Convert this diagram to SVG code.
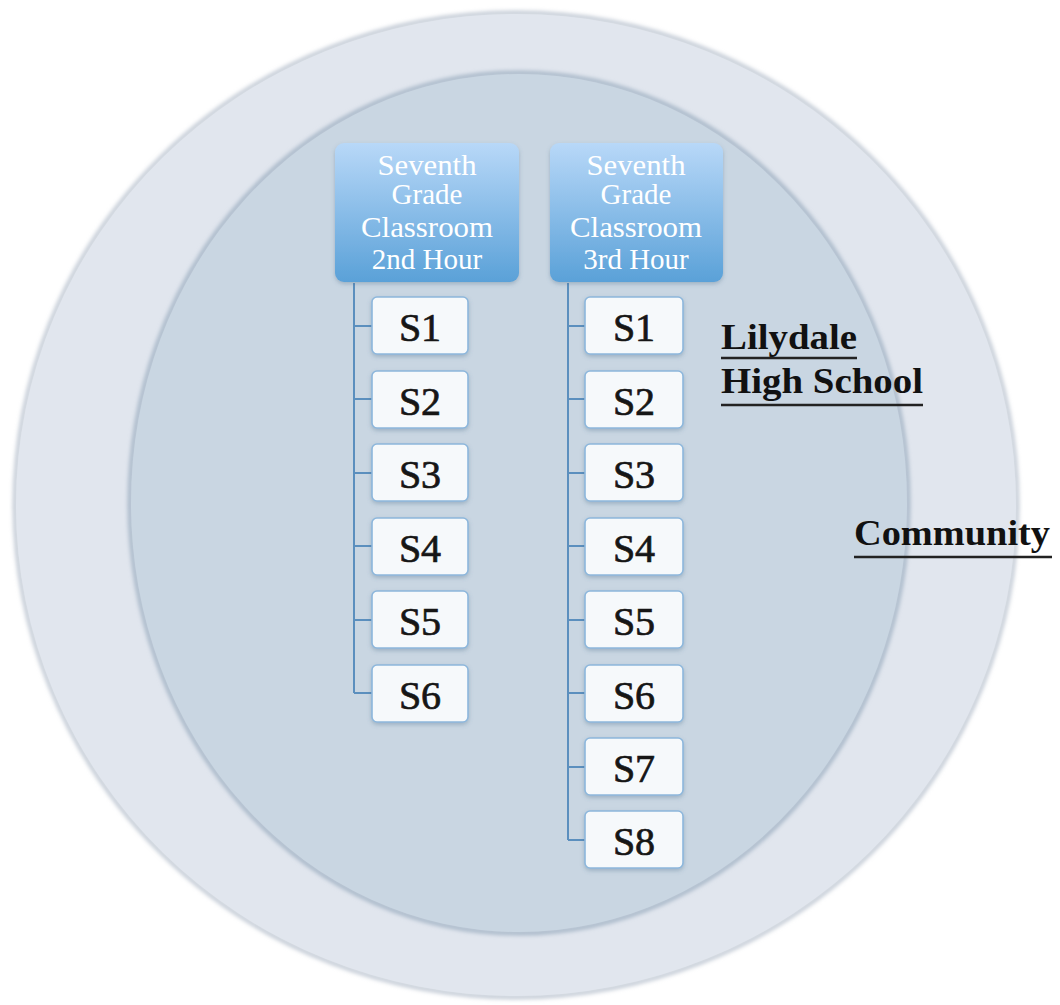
<svg xmlns="http://www.w3.org/2000/svg" width="1060" height="1005" viewBox="0 0 1060 1005">
  <defs>
    <linearGradient id="hdrFill" x1="0" y1="0" x2="0" y2="1">
      <stop offset="0" stop-color="#b8d8f8"/>
      <stop offset="1" stop-color="#5aa1d8"/>
    </linearGradient>
    <filter id="shadow" x="-10%" y="-10%" width="120%" height="130%">
      <feDropShadow dx="0" dy="2" stdDeviation="2" flood-color="#4a6a88" flood-opacity="0.35"/>
    </filter>
    <filter id="rim" x="-5%" y="-5%" width="110%" height="110%">
      <feGaussianBlur stdDeviation="2"/>
    </filter>
  </defs>
  <style>
    .hdr { fill: url(#hdrFill); filter: url(#shadow); }
    .hdrText { font-family: "Liberation Serif", serif; font-size: 29px; fill: #ffffff; text-anchor: middle; }
    .item { fill: #f6f9fb; stroke: #8db7dc; stroke-width: 1.6; filter: url(#shadow); }
    .itemText { font-family: "Liberation Serif", serif; font-size: 40px; fill: #161616; stroke: #161616; stroke-width: 0.7; text-anchor: middle; }
    .conn { fill: none; stroke: #5b8fbe; stroke-width: 2; }
    .label { font-family: "Liberation Serif", serif; font-weight: bold; font-size: 36px; fill: #111111; }
    .uline { stroke: #222222; stroke-width: 2.5; }
  </style>

  <rect width="1060" height="1005" fill="#ffffff"/>

  <!-- community ring -->
  <g id="community">
    <ellipse cx="516" cy="505" rx="501" ry="492" fill="none" stroke="#b9c2cf" stroke-width="4" filter="url(#rim)"/>
    <ellipse cx="516" cy="505" rx="500" ry="491" fill="#e1e6ee"/>
  </g>

  <!-- school ellipse -->
  <g id="school">
    <ellipse cx="519" cy="503" rx="389" ry="430" fill="none" stroke="#9fb0c2" stroke-width="4" filter="url(#rim)"/>
    <ellipse cx="519" cy="503" rx="388" ry="429" fill="#c9d6e2"/>
  </g>

  <!-- connectors -->
  <g id="connectors">
    <path class="conn" d="M354 283 V693 M354 326 H372 M354 399 H372 M354 473 H372 M354 546 H372 M354 620 H372 M354 693 H372"/>
    <path class="conn" d="M568 283 V840 M568 326 H585 M568 399 H585 M568 473 H585 M568 546 H585 M568 620 H585 M568 693 H585 M568 767 H585 M568 840 H585"/>
  </g>

  <!-- class headers -->
  <g id="class-2nd">
    <rect class="hdr" x="335" y="143" width="184" height="139" rx="9"/>
    <text class="hdrText" x="427" y="175" textLength="99" lengthAdjust="spacingAndGlyphs">Seventh</text>
    <text class="hdrText" x="427" y="204">Grade</text>
    <text class="hdrText" x="427" y="237" textLength="132" lengthAdjust="spacingAndGlyphs">Classroom</text>
    <text class="hdrText" x="427" y="269">2nd Hour</text>
  </g>
  <g id="class-3rd">
    <rect class="hdr" x="550" y="143" width="173" height="139" rx="9"/>
    <text class="hdrText" x="636" y="175" textLength="99" lengthAdjust="spacingAndGlyphs">Seventh</text>
    <text class="hdrText" x="636" y="204">Grade</text>
    <text class="hdrText" x="636" y="237" textLength="132" lengthAdjust="spacingAndGlyphs">Classroom</text>
    <text class="hdrText" x="636" y="269">3rd Hour</text>
  </g>

  <!-- students, 2nd hour -->
  <g id="s2-1"><rect class="item" x="372" y="297" width="96" height="57" rx="5"/><text class="itemText" x="420" y="341">S1</text></g>
  <g id="s2-2"><rect class="item" x="372" y="371" width="96" height="57" rx="5"/><text class="itemText" x="420" y="415">S2</text></g>
  <g id="s2-3"><rect class="item" x="372" y="444" width="96" height="57" rx="5"/><text class="itemText" x="420" y="488">S3</text></g>
  <g id="s2-4"><rect class="item" x="372" y="518" width="96" height="57" rx="5"/><text class="itemText" x="420" y="562">S4</text></g>
  <g id="s2-5"><rect class="item" x="372" y="591" width="96" height="57" rx="5"/><text class="itemText" x="420" y="635">S5</text></g>
  <g id="s2-6"><rect class="item" x="372" y="665" width="96" height="57" rx="5"/><text class="itemText" x="420" y="709">S6</text></g>

  <!-- students, 3rd hour -->
  <g id="s3-1"><rect class="item" x="585" y="297" width="98" height="57" rx="5"/><text class="itemText" x="634" y="341">S1</text></g>
  <g id="s3-2"><rect class="item" x="585" y="371" width="98" height="57" rx="5"/><text class="itemText" x="634" y="415">S2</text></g>
  <g id="s3-3"><rect class="item" x="585" y="444" width="98" height="57" rx="5"/><text class="itemText" x="634" y="488">S3</text></g>
  <g id="s3-4"><rect class="item" x="585" y="518" width="98" height="57" rx="5"/><text class="itemText" x="634" y="562">S4</text></g>
  <g id="s3-5"><rect class="item" x="585" y="591" width="98" height="57" rx="5"/><text class="itemText" x="634" y="635">S5</text></g>
  <g id="s3-6"><rect class="item" x="585" y="665" width="98" height="57" rx="5"/><text class="itemText" x="634" y="709">S6</text></g>
  <g id="s3-7"><rect class="item" x="585" y="738" width="98" height="57" rx="5"/><text class="itemText" x="634" y="782">S7</text></g>
  <g id="s3-8"><rect class="item" x="585" y="811" width="98" height="57" rx="5"/><text class="itemText" x="634" y="855">S8</text></g>

  <!-- region labels -->
  <g id="label-school">
    <text class="label" x="721" y="349" textLength="136" lengthAdjust="spacingAndGlyphs">Lilydale</text>
    <line class="uline" x1="721" y1="358" x2="857" y2="358"/>
    <text class="label" x="721" y="393" textLength="202" lengthAdjust="spacingAndGlyphs">High School</text>
    <line class="uline" x1="721" y1="405" x2="923" y2="405"/>
  </g>
  <g id="label-community">
    <text class="label" x="854" y="545" textLength="196" lengthAdjust="spacingAndGlyphs" font-size="35">Community</text>
    <line class="uline" x1="854" y1="557" x2="1052" y2="557"/>
  </g>
</svg>
